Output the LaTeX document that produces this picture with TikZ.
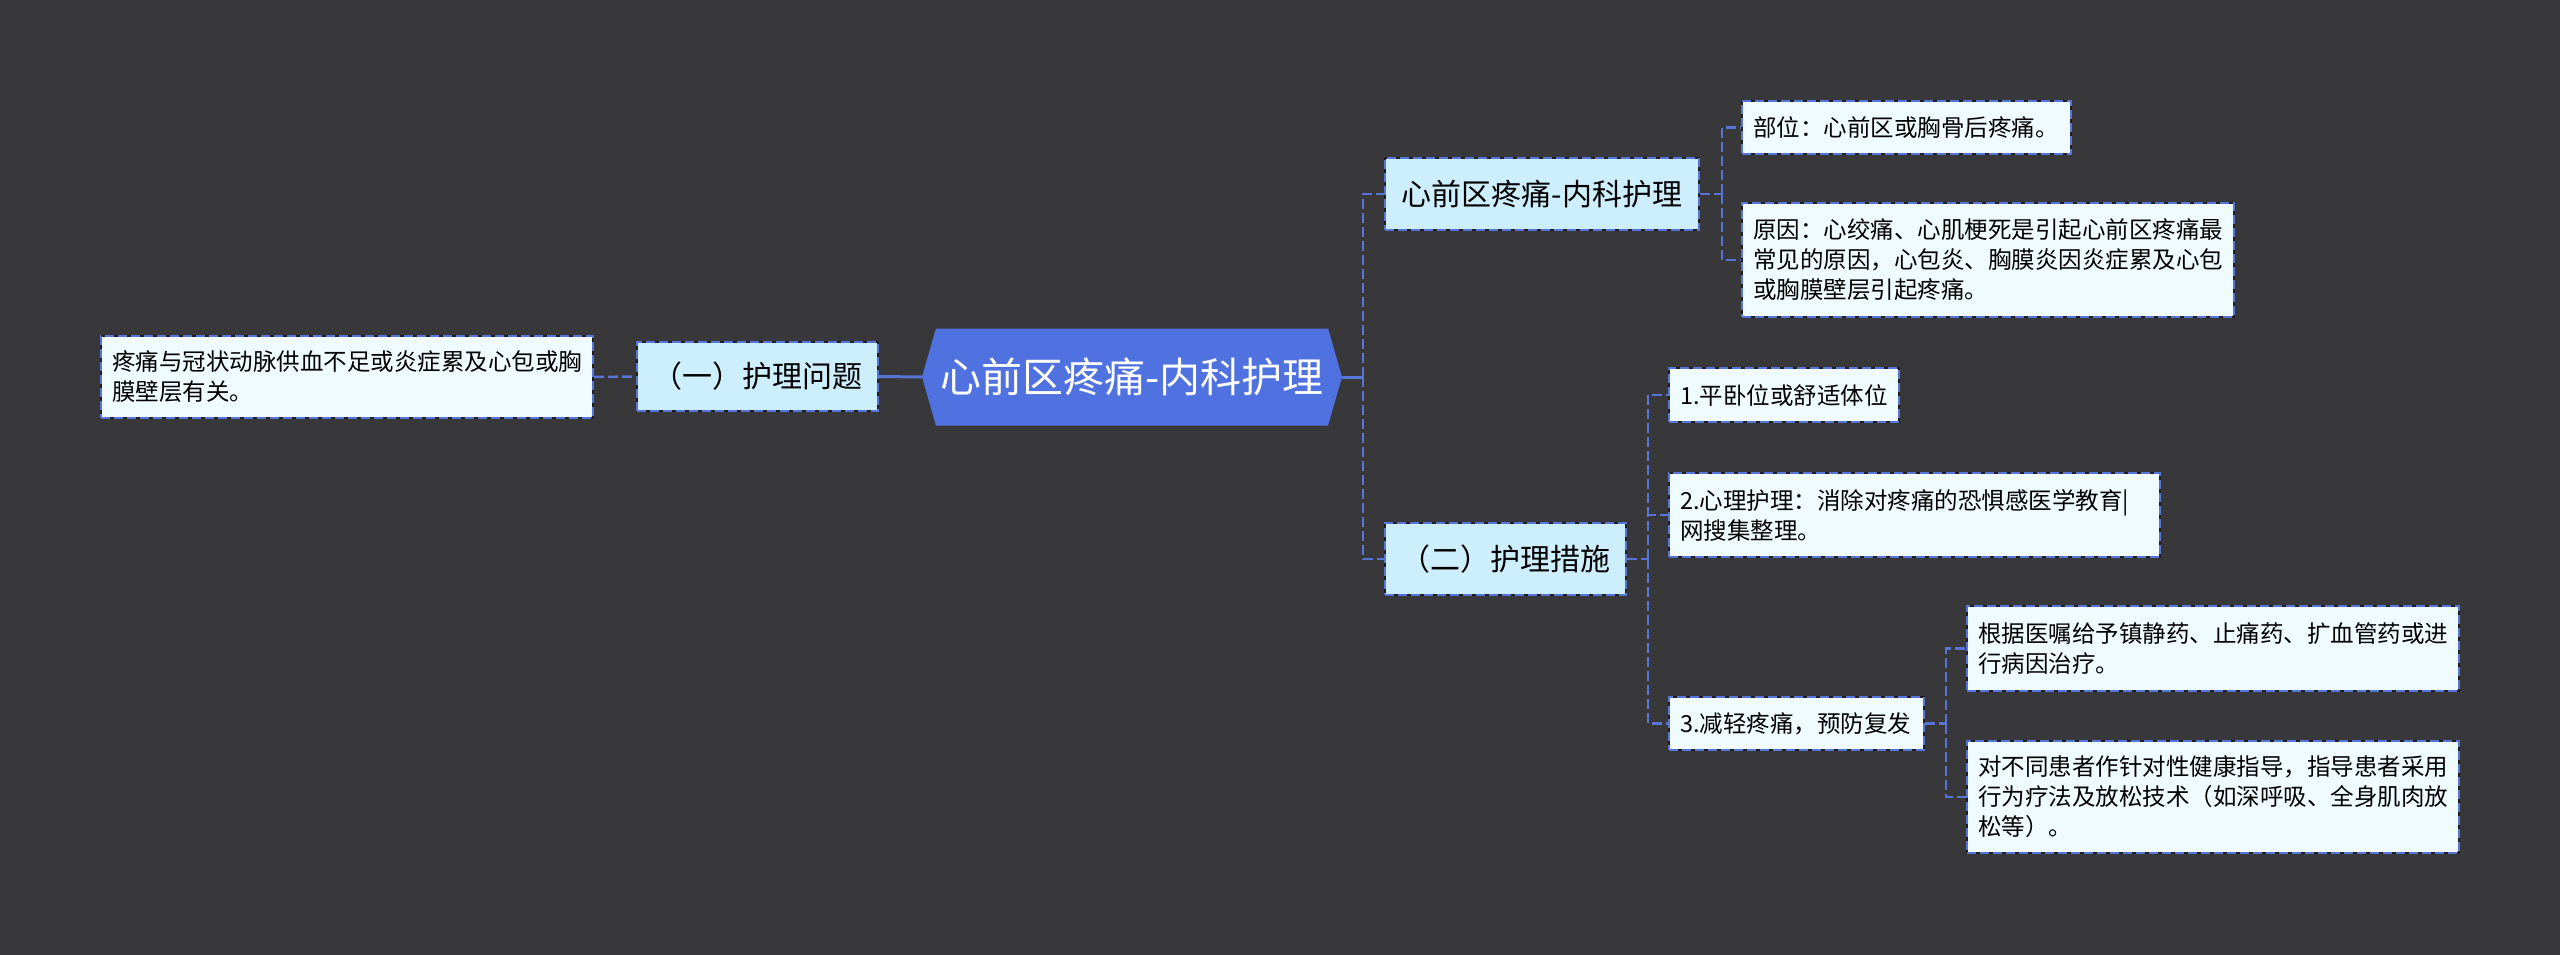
\documentclass[tikz,border=0pt]{standalone}
\usepackage{fontspec}
\setmainfont{Noto Sans CJK SC}
\usetikzlibrary{shapes.symbols}
\definecolor{bgcolor}{RGB}{56,55,57}
\definecolor{rootblue}{RGB}{80,114,224}
\definecolor{linkblue}{RGB}{88,116,214}
\definecolor{boxedge}{RGB}{30,30,34}
\definecolor{branchfill}{RGB}{204,238,253}
\definecolor{leaffill}{RGB}{240,251,255}

\begin{document}
\begin{tikzpicture}[
        x=1pt,
        y=-1pt,
        rootnode/.style={
            shape=signal,
            signal to=west and east,
            signal pointer angle=148,
            fill=rootblue,
            text=white,
            inner sep=0pt,
            minimum width=420pt,
            minimum height=97pt,
            font=\fontsize{41}{48}\selectfont
        },
        boxnode/.style={
            draw=boxedge,
            line width=2pt,
            postaction={draw=linkblue, line width=2pt, dash pattern=on 9pt off 4pt}
        },
        branchnode/.style={
            boxnode,
            fill=branchfill,
            text=black,
            inner sep=0pt,
            font=\fontsize{30}{36}\selectfont
        },
        leafnode/.style={
            boxnode,
            fill=leaffill,
            text=black,
            inner xsep=11pt,
            inner ysep=0pt,
            align=left,
            font=\fontsize{23.5}{30}\selectfont
        },
        link/.style={
            draw=linkblue,
            line width=2.5pt,
            dash pattern=on 10pt off 4pt
        },
        rootlink/.style={
            draw=linkblue,
            line width=3pt
        }
    ]
    \fill[bgcolor] (0,0) rectangle (2560,955);
    \useasboundingbox (0,0) rectangle (2560,955);

    \node[rootnode] (root) at (1132,377) {心前区疼痛-内科护理};

    \node[branchnode, minimum width=241pt, minimum height=69pt] (problem) at (757.5,376.5) {（一）护理问题};
    \node[leafnode, text width=470pt, minimum height=82pt] (reason) at (347,377)
        {疼痛与冠状动脉供血不足或炎症累及心包或胸\\膜壁层有关。};

    \node[branchnode, minimum width=314pt, minimum height=72pt] (care) at (1542,194) {心前区疼痛-内科护理};
    \node[leafnode, text width=307pt, minimum height=53pt] (site) at (1906.5,127.5)
        {部位：心前区或胸骨后疼痛。};
    \node[leafnode, text width=470pt, minimum height=114pt] (cause) at (1988,260)
        {原因：心绞痛、心肌梗死是引起心前区疼痛最\\常见的原因，心包炎、胸膜炎因炎症累及心包\\或胸膜壁层引起疼痛。};

    \node[branchnode, minimum width=241pt, minimum height=72pt] (measure) at (1505.5,559) {（二）护理措施};
    \node[leafnode, text width=208pt, minimum height=54pt] (rest) at (1784,395)
        {1.平卧位或舒适体位};
    \node[leafnode, text width=469pt, minimum height=84pt] (mind) at (1914.5,515)
        {2.心理护理：消除对疼痛的恐惧感医学教育|\\网搜集整理。};
    \node[leafnode, text width=233pt, minimum height=53pt] (relief) at (1796.5,723.5)
        {3.减轻疼痛，预防复发};
    \node[leafnode, text width=470pt, minimum height=85pt] (drug) at (2213,648.5)
        {根据医嘱给予镇静药、止痛药、扩血管药或进\\行病因治疗。};
    \node[leafnode, text width=470pt, minimum height=112pt] (guide) at (2213,797)
        {对不同患者作针对性健康指导，指导患者采用\\行为疗法及放松技术（如深呼吸、全身肌肉放\\松等）。};

    \draw[rootlink] (problem.east) -- (root.west);
    \draw[link] (reason.east) -- (problem.west);

    \draw[rootlink] (root.east) -- ++(21,0) coordinate (rootbus);
    \draw[link] (rootbus) |- (care.west);
    \draw[link] (rootbus) |- (measure.west);

    \draw[link] (care.east) -- ++(22,0) coordinate (carebus);
    \draw[link] (carebus) |- (site.west);
    \draw[link] (carebus) |- (cause.west);

    \draw[link] (measure.east) -- ++(21,0) coordinate (measurebus);
    \draw[link] (measurebus) |- (rest.west);
    \draw[link] (measurebus) |- (mind.west);
    \draw[link] (measurebus) |- (relief.west);

    \draw[link] (relief.east) -- ++(21,0) coordinate (reliefbus);
    \draw[link] (reliefbus) |- (drug.west);
    \draw[link] (reliefbus) |- (guide.west);
\end{tikzpicture}
\end{document}
